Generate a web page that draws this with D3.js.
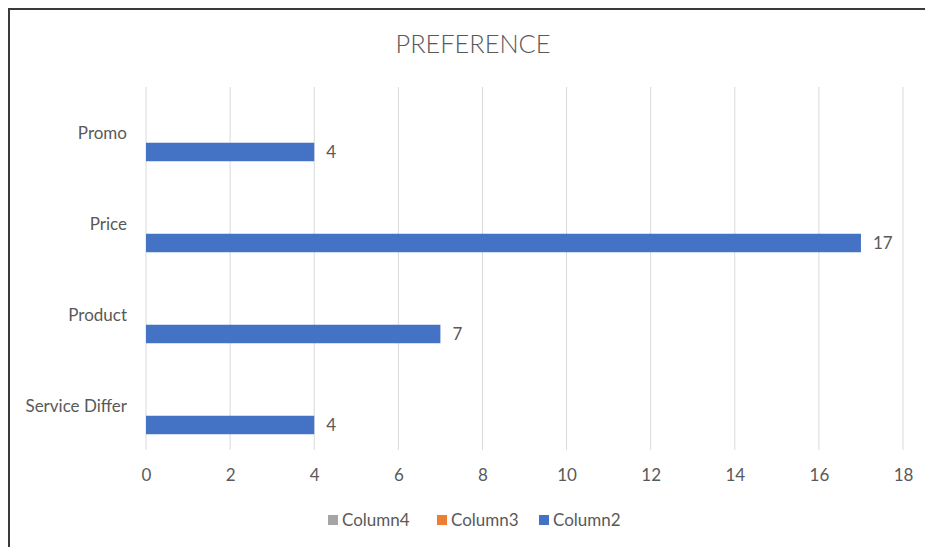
<!DOCTYPE html>
<html lang="en">
  <head>
    <meta charset="utf-8"/>
    <script src="https://d3js.org/d3.v7.min.js"></script>
    <style>
      body { margin: 0; background: #fff; }
      .chart text { font-family: Lato, "Open Sans", sans-serif; fill: #595959; }
    </style>
  </head>
  <body>
    <svg class="chart" width="925" height="547"></svg>
  </body>
  <script>
    const categories = ["Promo", "Price", "Product", "Service Differ"];
    const seriesNames = ["Column4", "Column3", "Column2"];
    const column2 = [4, 17, 7, 4];
    const column3 = [null, null, null, null];
    const column4 = [null, null, null, null];
    const xTicks = [0, 2, 4, 6, 8, 10, 12, 14, 16, 18];
    const colors = { Column4: "#A5A5A5", Column3: "#ED7D31", Column2: "#4472C4" };

    const svg = d3.select(".chart");
    const plotLeft = 146, plotRight = 903, plotTop = 88, plotBottom = 452;
    const fontSize = 17;

    // frame of the embedded chart (right and bottom fall outside the picture)
    svg.append("rect")
      .attr("x", 9).attr("y", 9)
      .attr("width", 940).attr("height", 560)
      .attr("fill", "none")
      .attr("stroke", "#3a3a3a")
      .attr("stroke-width", 2);

    const x = d3.scaleLinear().domain([0, 18]).range([plotLeft, plotRight]);
    const y = d3.scaleBand().domain(categories).range([plotTop, plotBottom]);
    const ySub = d3.scaleBand().domain(seriesNames)
      .range([0, y.bandwidth()])
      .paddingInner(0)
      .paddingOuter(0.96);

    // gridlines
    svg.append("g")
      .selectAll("line")
      .data(xTicks)
      .join("line")
        .attr("x1", d => x(d)).attr("x2", d => x(d))
        .attr("y1", plotTop - 1).attr("y2", plotBottom - 2)
        .attr("stroke", "#D9D9D9")
        .attr("stroke-width", 1);

    // x tick labels
    const xAxis = svg.append("g")
      .attr("transform", `translate(0,${plotBottom})`)
      .call(d3.axisBottom(x).tickValues(xTicks).tickSize(0).tickPadding(17));
    xAxis.select(".domain").remove();
    xAxis.selectAll("text")
      .attr("font-size", fontSize)
      .attr("fill", "#595959")
      .attr("font-family", "Lato, sans-serif");

    // category labels
    const yAxis = svg.append("g")
      .attr("transform", `translate(${plotLeft - 19},0)`)
      .call(d3.axisLeft(y).tickSize(0).tickPadding(0));
    yAxis.select(".domain").remove();
    yAxis.selectAll("text")
      .attr("font-size", fontSize)
      .attr("fill", "#595959")
      .attr("font-family", "Lato, sans-serif");

    const seriesData = { Column4: column4, Column3: column3, Column2: column2 };

    seriesNames.forEach(function(name) {
      const vals = categories.map((c, i) => ({ cat: c, value: seriesData[name][i] }))
        .filter(d => d.value != null);

      svg.append("g")
        .selectAll("rect")
        .data(vals)
        .join("rect")
          .attr("x", x(0))
          .attr("y", d => y(d.cat) + ySub(name))
          .attr("width", d => x(d.value) - x(0))
          .attr("height", ySub.bandwidth())
          .attr("fill", colors[name]);

      svg.append("g")
        .selectAll("text")
        .data(vals)
        .join("text")
          .attr("x", d => x(d.value) + 12)
          .attr("y", d => y(d.cat) + ySub(name) + ySub.bandwidth() / 2)
          .attr("dy", "0.35em")
          .attr("font-size", fontSize)
          .attr("fill", "#404040")
          .text(d => d.value);
    });

    // title
    svg.append("text")
      .attr("x", 473).attr("y", 44)
      .attr("dy", "0.35em")
      .attr("text-anchor", "middle")
      .attr("font-size", 25)
      .attr("font-weight", 300)
      .attr("textLength", 155)
      .attr("lengthAdjust", "spacingAndGlyphs")
      .text("PREFERENCE");

    // legend
    const legendX = [328, 437, 539];
    const legend = svg.append("g")
      .selectAll("g")
      .data(seriesNames)
      .join("g")
        .attr("transform", (d, i) => `translate(${legendX[i]},520)`);
    legend.append("rect")
      .attr("x", 0).attr("y", -5)
      .attr("width", 10).attr("height", 10)
      .attr("fill", d => colors[d]);
    legend.append("text")
      .attr("x", 14).attr("y", 0)
      .attr("dy", "0.35em")
      .attr("font-size", fontSize)
      .text(d => d);
  </script>
</html>
